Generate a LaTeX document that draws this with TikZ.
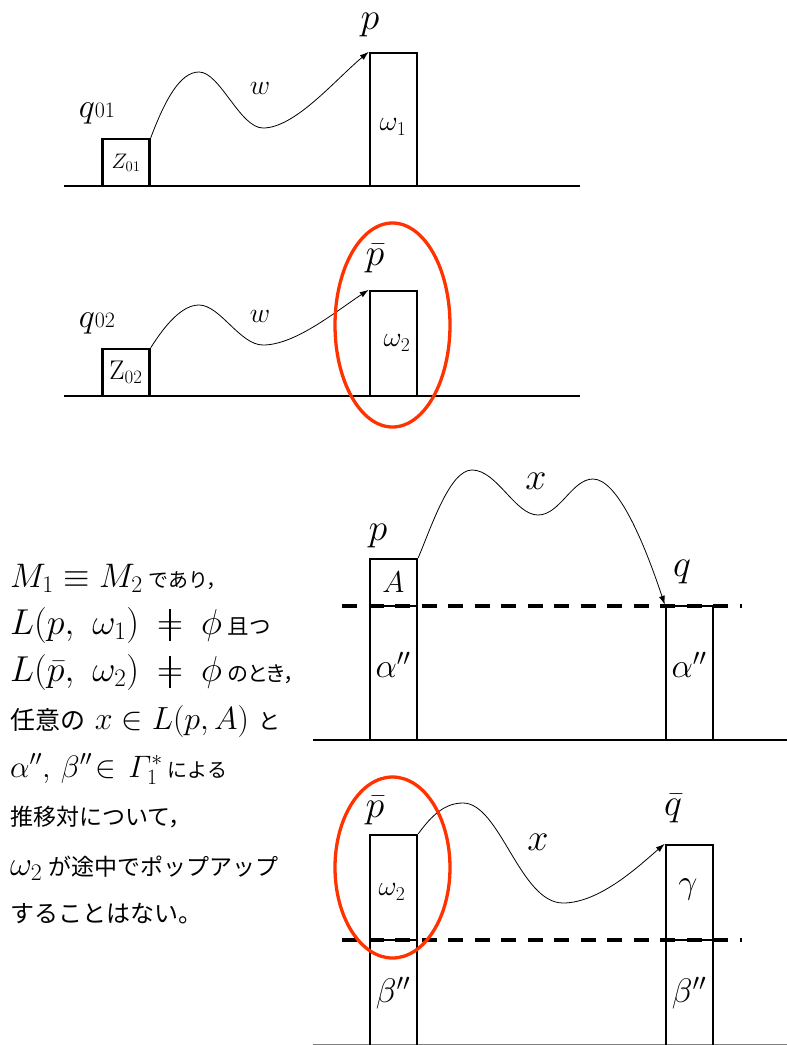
\RequirePackage{fix-cm}
\documentclass[tikz,border=0pt]{standalone}
\usepackage{fontspec}
\newfontfamily\jp{Noto Sans CJK JP}
\newfontfamily\jpp[RawFeature=+palt]{Noto Sans CJK JP}
\usetikzlibrary{arrows.meta,shapes.geometric}
\definecolor{ered}{RGB}{255,51,0}
\newcommand{\fs}[1]{\fontsize{#1}{#1}\selectfont}
\newcommand{\neqbar}{\mathrel{\hbox{\ooalign{$=$\cr\hfil$\vcenter{\hrule height .9em width .045em}$\hfil\cr}}}}
\begin{document}
\begin{tikzpicture}[x=1pt,y=-1pt,
  box/.style={draw, line width=2.5pt, inner sep=0pt, minimum width=47pt},
  base/.style={line width=1.2pt},
  conn/.style={line width=0.8pt, -{Latex[length=9pt,width=6pt]}},
  dsh/.style={line width=3.2pt, dash pattern=on 15pt off 11.5pt},
  ring/.style={draw=ered, line width=3.3pt},
  lbl/.style={inner sep=0pt},
  txt/.style={inner sep=0pt, anchor=base west, font=\fs{35}}]
\useasboundingbox (0,0) rectangle (787,1045);

% ---------- diagram 1 ----------
\draw[base] (64,186) -- (580,186);
\node[box, minimum height=47pt, font=\fs{21}] (z1) at (126,162.5) {$Z_{01}$};
\node[box, minimum height=133pt] (p1) at (393.5,119.5) {};
\node[lbl, font=\fs{28}] (w1) at (393,127) {$\omega_1$};
\node[lbl, font=\fs{38}] (lp1) at (370,25) {$p$};
\node[lbl] (lq1) at (97,113) {\fs{34}$q$\fs{22}01};
\node[lbl, font=\fs{28}] (lw1) at (260,88) {$w$};
\draw[conn] (z1.north east) .. controls (165,100) and (180,72) .. (199,72)
  .. controls (220,72) and (240,128) .. (263,128)
  .. controls (295,128) and (335,80) .. (p1.north west);

% ---------- diagram 2 ----------
\draw[base] (64,396) -- (580,396);
\node[box, minimum height=47pt, font=\fs{27}] (z2) at (126,372.5) {$\mathrm{Z}_{02}$};
\node[box, minimum height=105pt] (p2) at (393.5,343.5) {};
\node[lbl, font=\fs{28}] (w2) at (397,343) {$\omega_2$};
\node[lbl, font=\fs{38}] (lp2) at (375,259) {$\bar p$};
\node[lbl] (lq2) at (97,323) {\fs{34}$q$\fs{22}02};
\node[lbl, font=\fs{28}] (lw2) at (260,316) {$w$};
\draw[conn] (z2.north east) .. controls (165,325) and (182,305) .. (199,305)
  .. controls (220,305) and (240,345) .. (263,345)
  .. controls (295,345) and (335,312) .. (p2.north west);
\draw[ring] (392.5,325) ellipse [x radius=57.5pt, y radius=102pt];

% ---------- diagram 3 ----------
\draw[base] (313,740) -- (787,740);
\draw[dsh] (342,606) -- (742,606);
\node[box, minimum height=47pt, font=\fs{30}] (pa) at (393.5,582.5) {$A$};
\node[box, minimum height=134pt] (pb) at (393.5,673) {};
\node[box, minimum height=134pt] (qa) at (689.5,673) {};
\node[lbl, font=\fs{34}] (al1) at (393,665) {$\alpha''$};
\node[lbl, font=\fs{34}] (al2) at (689,665) {$\alpha''$};
\node[lbl, font=\fs{38}] (lp3) at (378,536) {$p$};
\node[lbl, font=\fs{38}] (lq3) at (682,572) {$q$};
\node[lbl, font=\fs{38}] (lx3) at (536,481) {$x$};
\draw[conn] (pa.north east) .. controls (432,525) and (450,470) .. (472,470)
  .. controls (497,470) and (515,515) .. (538,515)
  .. controls (560,515) and (572,479) .. (593,479)
  .. controls (618,479) and (645,545) .. (qa.north west);

% ---------- diagram 4 ----------
\draw[line width=1pt, gray] (313,1044) -- (787,1044);
\draw[dsh] (342,940) -- (742,940);
\node[box, minimum height=105pt] (pc1) at (393.5,887.5) {};
\node[box, minimum height=112pt] (pc2) at (393.5,996) {};
\node[box, minimum height=95pt] (qc1) at (689.5,892.5) {};
\node[box, minimum height=112pt] (qc2) at (689.5,996) {};
\node[lbl, font=\fs{28}] (w3) at (392,892) {$\omega_2$};
\node[lbl, font=\fs{34}] (g1) at (688,889) {$\gamma$};
\node[lbl, font=\fs{34}] (b1) at (393,993) {$\beta''$};
\node[lbl, font=\fs{34}] (b2) at (689,993) {$\beta''$};
\node[lbl, font=\fs{38}] (lp4) at (375,811) {$\bar p$};
\node[lbl, font=\fs{38}] (lq4) at (673,809) {$\bar q$};
\node[lbl, font=\fs{38}] (lx4) at (538,842) {$x$};
\draw[conn] (pc1.north east) .. controls (432,815) and (445,803) .. (463,803)
  .. controls (500,803) and (520,903) .. (563,903)
  .. controls (600,903) and (640,865) .. (qc1.north west);
\draw[ring] (392.5,867.5) ellipse [x radius=57.5pt, y radius=90.5pt];

% ---------- left text ----------
\node[txt, font=\fs{34}] (t1) at (10,587) {$M_1 \equiv M_2$\,{\jp\fs{20}であり，}};
\node[txt, font=\fs{36}] (t2) at (10,634) {$L(p,\mkern6mu\omega_1)\mkern4mu\neqbar\mkern4mu\phi$\,{\jp\fs{21.5}且つ}};
\node[txt, font=\fs{36}] (t3) at (10,681) {$L(\bar p,\mkern6mu\omega_2)\mkern4mu\neqbar\mkern4mu\phi$\,{\jpp\fs{21}のとき，}};
\node[txt, font=\fs{32}] (t4) at (10,729) {{\jp\fs{25}任意の} $x \in L(p,A)$ {\jp\fs{22}と}};
\node[txt, font=\fs{31}] (t5) at (10,777) {$\alpha'',\,\beta''\!\in\mkern2mu \mathnormal{\Gamma}_1^*$\,{\jp\fs{20}による}};
\node[txt, font=\jp\fs{23}] (t6) at (10,825) {推移対について，};
\node[txt] (t7) at (10,875) {\fs{34}$\omega_2$\,{\jp\fs{23}が途中でポップアップ}};
\node[txt, font=\jp\fs{24}] (t8) at (10,922) {することはない。};
\end{tikzpicture}
\end{document}
